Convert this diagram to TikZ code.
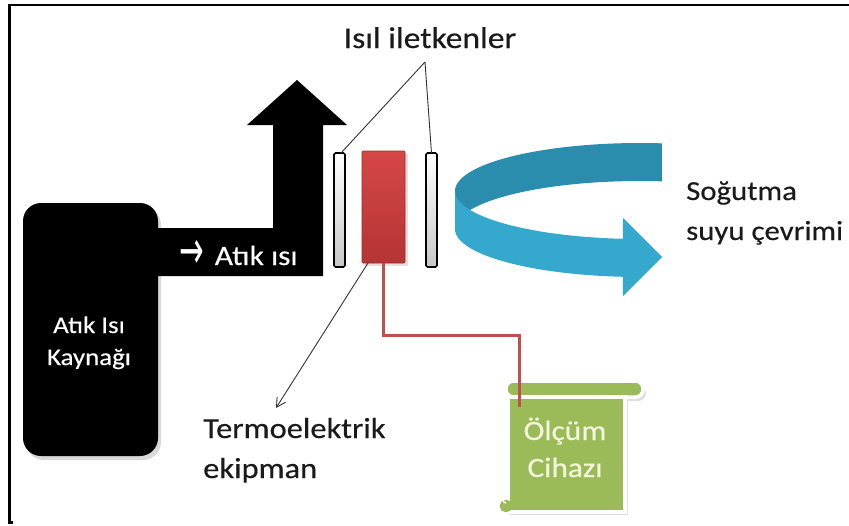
\documentclass[tikz,border=0pt]{standalone}
\usepackage{fontspec}
\usepackage{graphicx}
\setmainfont{Carlito}[FakeStretch=1.12, FakeBold=0.35]
\newfontfamily\arrowfont{DejaVu Sans}
\usetikzlibrary{arrows.meta,calc}
\definecolor{tecred}{HTML}{D64747}
\definecolor{tecdark}{HTML}{B53434}
\definecolor{wirered}{HTML}{C0504D}
\definecolor{scrollgreen}{HTML}{9BBB59}
\definecolor{ribbonback}{HTML}{2B8DAE}
\definecolor{ribbonfront}{HTML}{34A9CD}
\definecolor{creamtext}{HTML}{F4F6DE}
\definecolor{labelblack}{HTML}{1A1A1A}
\tikzset{
  condbar/.style={draw=black, line width=1.6pt, rounded corners=1.5pt,
    top color=white, bottom color=black!22, minimum width=11pt,
    minimum height=114pt, inner sep=0pt, outer sep=0pt},
  tecbox/.style={draw=tecdark!85!black, line width=0.6pt, rounded corners=1pt,
    top color=tecred, bottom color=tecdark, minimum width=43pt,
    minimum height=112pt, inner sep=0pt, outer sep=0pt},
  srcbox/.style={fill=black, rounded corners=18pt, minimum width=135pt,
    minimum height=253pt, inner sep=0pt, outer sep=0pt},
  bigtext/.style={text=labelblack, font=\fontsize{29}{40}\selectfont, inner sep=0pt},
  whitetext/.style={text=white, inner sep=0pt},
  scrolltext/.style={text=creamtext, font=\fontsize{28}{36}\selectfont, inner sep=0pt},
  scrollpart/.style={fill=scrollgreen, draw=white, line width=3.5pt},
  pointer/.style={draw=black!80, line width=0.9pt},
}
\begin{document}
\begin{tikzpicture}[x=1pt,y=-1pt]
\useasboundingbox (0,0) rectangle (849,525);
\fill[white] (0,0) rectangle (849,525);
% frame
\draw[line width=2.5pt] (849,5) -- (9.5,5) -- (9.5,522.5) -- (13,522.5);

% waste heat source
\fill[black!15, rounded corners=18pt] (26,207) rectangle (161,460);
\node[srcbox] (src) at (90.5,329.5) {};
\node[whitetext, font=\fontsize{24}{32}\selectfont, anchor=base] (srcA) at (89,333) {Atık Isı};
\node[whitetext, font=\fontsize{24}{32}\selectfont, anchor=base] (srcB) at (89,365) {Kaynağı};

% L-shaped heat arrow
\fill[black] (150,228) -- (273,228) -- (273,125) -- (247,125) -- (297,80)
  -- (347,125) -- (323,125) -- (323,276) -- (150,276) -- cycle;
\node[whitetext, font=\fontsize{28}{34}\selectfont, anchor=base west] (heat) at (179,265)
  {\raisebox{-3pt}{\scalebox{1.05}[1.9]{\arrowfont\fontsize{28}{34}\selectfont →}}\kern11pt Atık ısı};

% thermal conductors and TEG
\node[condbar] (lbar) at (339.5,210) {};
\node[condbar] (rbar) at (431.5,210) {};
\fill[black!12] (364,154) rectangle (408,266);
\node[tecbox] (tec) at (383.5,207) {};

% label: Isil iletkenler
\node[bigtext, font=\fontsize{30}{40}\selectfont, anchor=base] (cond) at (430,48) {Isıl iletkenler};
\coordinate (jn) at (425,62);
\draw[pointer] (jn) -- ([xshift=1.5pt]lbar.north);
\draw[pointer] (jn) -- (rbar.north);

% label: Termoelektrik ekipman
\node[bigtext, anchor=base west] (teA) at (203,438) {Termoelektrik};
\node[bigtext, anchor=base west] (teB) at (203,478) {ekipman};
\coordinate (teTip) at (276,408);
\draw[pointer, -{Straight Barb[length=9pt,width=10pt]}] ([xshift=6pt]tec.south west) -- (teTip);

% cooling water ribbon
\fill[ribbonback]
  plot[domain=83.2:180, samples=50, variable=\t] ({640+185*cos(\t)}, {210-48*sin(\t)-19})
  -- plot[domain=180:83.2, samples=50, variable=\t] ({640+185*cos(\t)}, {210-48*sin(\t)+19})
  -- cycle;
\fill[ribbonfront]
  plot[domain=180:264.7, samples=50, variable=\t] ({640+185*cos(\t)}, {210-48*sin(\t)-19})
  -- (623,218) -- (662,257) -- (623,296)
  -- plot[domain=264.7:180, samples=50, variable=\t] ({640+185*cos(\t)}, {210-48*sin(\t)+19})
  -- cycle;
\node[bigtext, font=\fontsize{27.5}{40}\selectfont, anchor=base west] (coolA) at (686,200) {Soğutma};
\node[bigtext, font=\fontsize{27.5}{40}\selectfont, anchor=base west] (coolB) at (686,240) {suyu çevrimi};

% measuring device scroll
\fill[black!12, rounded corners=8pt] (507,386) rectangle (646,401);
\fill[black!12] (510,401) rectangle (628,515);
\path[scrollpart, rounded corners=7.5pt] (506,381) rectangle (643,397);
\node[scrollpart, minimum width=117pt, minimum height=115pt, inner sep=0pt, outer sep=0pt] (scroll) at (566.5,454.5) {};
\fill[scrollgreen, rounded corners=5pt] (500,500) rectangle (512,512);
\draw[white, line width=1.6pt] (506,503) arc[start angle=90, end angle=270, radius=3];
\draw[white, line width=1.4pt] (509,383) arc[start angle=90, end angle=-90, radius=2.5];
\node[scrolltext, anchor=base] (devA) at (565,440) {Ölçüm};
\node[scrolltext, anchor=base] (devB) at (565,477) {Cihazı};

% wire
\draw[wirered, line width=3pt] (tec.south) -- ++(0,72) -| ([xshift=11pt,yshift=-10pt]scroll.north west);
\end{tikzpicture}
\end{document}
